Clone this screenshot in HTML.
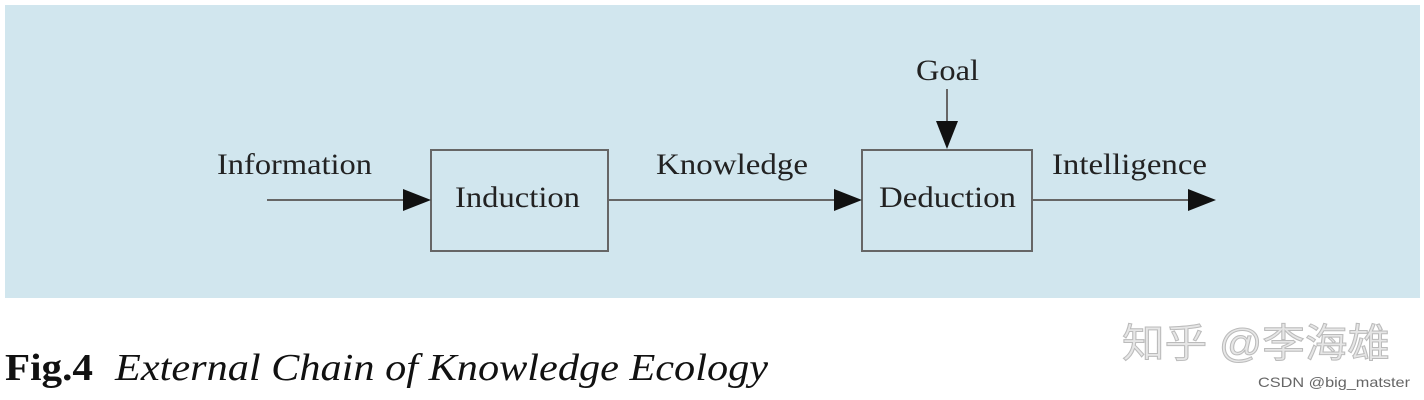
<!DOCTYPE html>
<html><head><meta charset="utf-8"><style>
html,body{margin:0;padding:0;background:#fff;}
svg{display:block}
</style></head><body>
<svg width="1424" height="400" viewBox="0 0 1424 400" xmlns="http://www.w3.org/2000/svg">
<rect x="5" y="5" width="1415" height="293" fill="#d1e6ee"/>
<g font-family="Liberation Serif, serif" font-size="30" fill="#222" lengthAdjust="spacingAndGlyphs">
<text x="217" y="174" textLength="155" lengthAdjust="spacingAndGlyphs">Information</text>
<text x="656" y="174" textLength="152" lengthAdjust="spacingAndGlyphs">Knowledge</text>
<text x="1052" y="174" textLength="155" lengthAdjust="spacingAndGlyphs">Intelligence</text>
<text x="916" y="80" textLength="63" lengthAdjust="spacingAndGlyphs">Goal</text>
<text x="455" y="207" textLength="125" lengthAdjust="spacingAndGlyphs">Induction</text>
<text x="879" y="207" textLength="137" lengthAdjust="spacingAndGlyphs">Deduction</text>
</g>
<g stroke="#666" stroke-width="2" fill="none">
<rect x="431" y="150" width="177" height="101"/>
<rect x="862" y="150" width="170" height="101"/>
<line x1="267" y1="200" x2="410" y2="200"/>
<line x1="608" y1="200" x2="840" y2="200"/>
<line x1="1032" y1="200" x2="1195" y2="200"/>
<line x1="947" y1="89" x2="947" y2="125"/>
</g>
<g fill="#111">
<polygon points="403,189 431,200 403,211"/>
<polygon points="834,189 862,200 834,211"/>
<polygon points="1188,189 1216,200 1188,211"/>
<polygon points="936,121 958,121 947,149"/>
</g>
<text x="5" y="380" font-family="Liberation Serif, serif" font-size="38" font-weight="bold" fill="#111" textLength="88" lengthAdjust="spacingAndGlyphs">Fig.4</text>
<text x="115" y="380" font-family="Liberation Serif, serif" font-size="38" font-style="italic" fill="#111" textLength="653" lengthAdjust="spacingAndGlyphs">External Chain of Knowledge Ecology</text>
<text x="1122" y="357" font-family="Liberation Sans, Noto Sans CJK SC, sans-serif" font-size="40" fill="#e6e6e6" stroke="#bbb" stroke-width="1" textLength="268" lengthAdjust="spacingAndGlyphs">知乎 @李海雄</text>
<text x="1258" y="387" font-family="Liberation Sans, sans-serif" font-size="14" fill="#666" textLength="152" lengthAdjust="spacingAndGlyphs">CSDN @big_matster</text>
</svg>
</body></html>
